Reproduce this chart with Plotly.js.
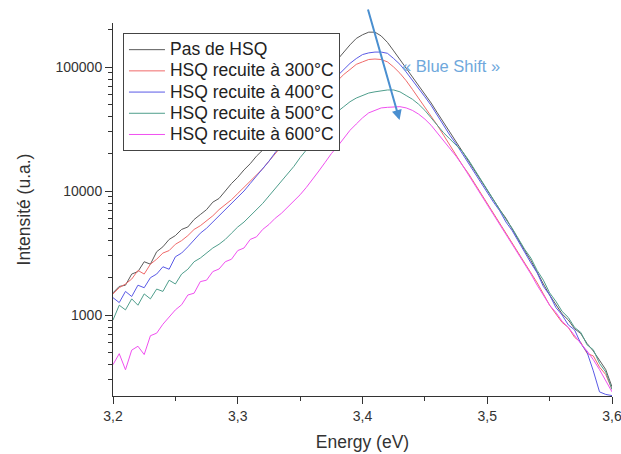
<!DOCTYPE html>
<html>
<head>
<meta charset="utf-8">
<script src="https://cdn.plot.ly/plotly-3.0.1.min.js"></script>
<style>
html,body{margin:0;padding:0;background:#fff;}
#chart{width:621px;height:454px;}
.legendtext{font-size:17.5px !important;}
</style>
</head>
<body>
<div id="chart"></div>
<script>
const energy = [3.200,3.205,3.210,3.215,3.220,3.225,3.230,3.235,3.240,3.245,3.250,3.255,3.260,3.265,3.270,3.275,3.280,3.285,3.290,3.295,3.300,3.305,3.310,3.315,3.320,3.325,3.330,3.335,3.340,3.345,3.350,3.355,3.360,3.365,3.370,3.375,3.380,3.385,3.390,3.395,3.400,3.405,3.410,3.415,3.420,3.425,3.430,3.435,3.440,3.445,3.450,3.455,3.460,3.465,3.470,3.475,3.480,3.485,3.490,3.495,3.500,3.505,3.510,3.515,3.520,3.525,3.530,3.535,3.540,3.545,3.550,3.555,3.560,3.565,3.570,3.575,3.580,3.585,3.590,3.595,3.600];

const pasDeHSQ = [1510,1700,1740,2140,2240,2690,2570,3240,3550,4070,4370,4900,5130,5890,6460,7080,8130,8710,10000,11500,12900,14800,16600,19100,21400,24500,28200,32400,37200,42700,49000,56200,64600,74100,85100,97700,115000,132000,151000,170000,182000,191000,191000,178000,158000,135000,115000,97700,83200,70800,60300,51300,42700,35500,29500,24500,20900,17400,14500,12000,10000,8510,7080,6030,4900,4070,3310,2750,2190,1780,1450,1230,1020,912,776,708,589,513,427,363,263];

const hsq300 = [1480,1660,1780,1950,2290,2140,2570,2820,3160,3310,3720,3980,4370,4900,5250,5750,6310,7080,7760,8510,9550,10700,12000,13500,15100,17400,20000,22900,26300,30200,34700,39800,45700,52500,60300,69200,77600,87100,95500,105000,110000,115000,116000,115000,110000,100000,89100,77600,66100,56200,47900,40700,33900,28200,23400,19500,16200,13800,11500,9550,7940,6610,5500,4570,3800,3160,2630,2190,1820,1480,1200,1020,871,794,661,603,490,468,380,331,251];

const hsq400 = [1380,1260,1550,1410,1740,1660,2000,2140,2450,2340,2950,3160,3550,4070,4570,5010,5620,6310,7080,7940,8910,10000,11500,13200,15100,17400,20400,23400,27500,31600,37200,42700,50100,57500,66100,75900,85100,95500,107000,117000,126000,130000,132000,132000,129000,117000,105000,91200,77600,67600,57500,49000,40700,33900,28200,24000,20000,17000,14100,11700,9770,8130,6920,5620,4790,3890,3240,2630,2190,1700,1450,1150,1000,832,759,589,501,355,240,229,224];

const hsq500 = [912,1200,1100,1350,1200,1480,1350,1620,1550,1910,1780,2140,2340,2690,2880,3160,3470,3720,4070,4570,5130,5620,6310,7080,7940,9120,10500,12000,13800,15800,18600,21400,24500,28200,33100,38000,43700,47900,52500,56200,58900,61700,63100,64600,65300,65300,63100,58900,55000,50100,44700,38900,33900,29500,26300,23400,20900,17800,14800,12300,10200,8510,7240,5890,5010,4070,3390,2880,2290,1910,1510,1290,1070,955,794,724,575,525,407,347,251];

const hsq600 = [398,488,362,521,560,480,681,714,843,957,1100,1210,1450,1500,1860,1910,2240,2350,2690,2820,3310,3470,4070,4270,4900,5370,6030,6610,7410,8320,9330,10700,12600,14500,17000,20000,22900,26900,30900,34700,38900,42700,44700,46800,47300,47900,47900,46800,44700,41700,38000,33900,29500,25700,22400,19100,16200,13500,11200,9330,7760,6460,5370,4470,3720,3090,2570,2140,1740,1450,1200,1050,891,794,676,589,513,437,363,295,240];

const seriesNames = ['Pas de HSQ','HSQ recuite à 300°C','HSQ recuite à 400°C','HSQ recuite à 500°C','HSQ recuite à 600°C'];
const seriesValues = [pasDeHSQ, hsq300, hsq400, hsq500, hsq600];
const seriesColors = ['#5a5a5a','#f06a6a','#5a5ae6','#4f9e8c','#f050f0'];

const xTickVals = [3.2,3.3,3.4,3.5,3.6];
const xTickText = ['3,2','3,3','3,4','3,5','3,6'];
const xMinor = [3.25,3.35,3.45,3.55];
const yTickVals = [1000,10000,100000];
const yTickText = ['1000','10000','100000'];
const yMinor = [300,400,500,600,700,800,900,2000,3000,4000,5000,6000,7000,8000,9000,20000,30000,40000,50000,60000,70000,80000,90000,200000];

const traces = seriesNames.map((n,i)=>({
  x: energy, y: seriesValues[i], name: n, type:'scatter', mode:'lines',
  line:{color: seriesColors[i], width:1}
}));

const font = "Arial, 'Liberation Sans', sans-serif";
const layout = {
  width:621, height:454,
  margin:{l:113, r:9, t:23, b:58},
  paper_bgcolor:'#fff', plot_bgcolor:'#fff',
  font:{family:font, color:'#333', size:14},
  showlegend:true,
  legend:{x:0.02, y:0.973, xanchor:'left', yanchor:'top', bgcolor:'#fff', bordercolor:'#444', borderwidth:1,
    font:{family:font, size:14, color:'#222'}, tracegroupgap:0, itemwidth:36},
  xaxis:{range:[3.2,3.6], tickmode:'array', tickvals:xTickVals, ticktext:xTickText,
    ticks:'outside', ticklen:7, tickcolor:'#333', showline:true, linecolor:'#333', linewidth:1,
    showgrid:false, zeroline:false, tickfont:{size:14, color:'#333'}, ticklabeloverflow:'allow',
    minor:{tickmode:'array', tickvals:xMinor, ticks:'outside', ticklen:4, tickcolor:'#333', showgrid:false},
    title:{text:'Energy (eV)', font:{size:17.5, color:'#333'}, standoff:12}},
  yaxis:{type:'log', range:[2.347,5.355], tickmode:'array', tickvals:yTickVals, ticktext:yTickText,
    ticks:'outside', ticklen:7, tickcolor:'#333', showline:true, linecolor:'#333', linewidth:1,
    showgrid:false, zeroline:false, tickfont:{size:14, color:'#333'},
    minor:{tickmode:'array', tickvals:yMinor, ticks:'outside', ticklen:4, tickcolor:'#333', showgrid:false},
    title:{text:'Intensité (u.a.)', font:{size:17.5, color:'#333'}, standoff:20}},
  annotations:[
    {x:3.4297, y:Math.log10(37400), xref:'x', yref:'y', ax:-32, ay:-112, axref:'pixel', ayref:'pixel',
     showarrow:true, arrowhead:2, arrowsize:1, arrowwidth:2, arrowcolor:'#4a8fd0', text:''},
    {x:0.678, y:0.885, xref:'paper', yref:'paper', xanchor:'center', yanchor:'middle', showarrow:false, text:'« Blue Shift »',
     font:{family:font, size:16.5, color:'#6fa8dc'}}
  ]
};
Plotly.newPlot('chart', traces, layout, {displayModeBar:false, staticPlot:true});
</script>
</body>
</html>
